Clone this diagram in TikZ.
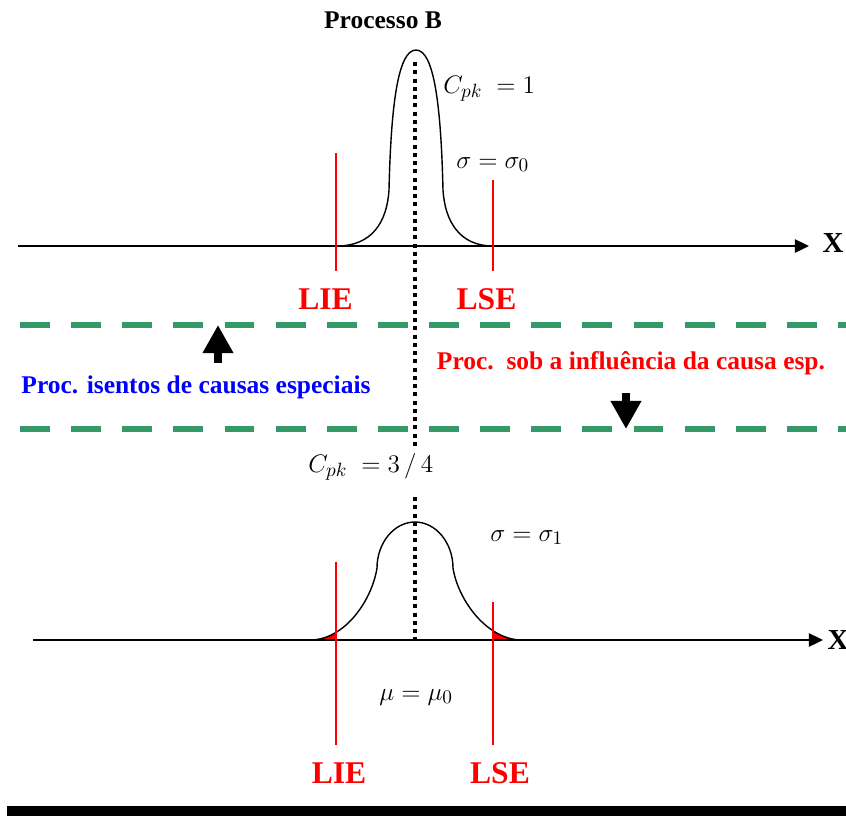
\documentclass[tikz,border=0pt]{standalone}
\usepackage{fontspec}
\setmainfont{Liberation Serif}
\usepackage{xcolor}
\usepackage{tikz}
\usetikzlibrary{arrows.meta}
\definecolor{band}{HTML}{339966}
\definecolor{limit}{HTML}{FF0000}
\definecolor{calm}{HTML}{0000FF}

\begin{document}
\begin{tikzpicture}[x=0.02cm, y=-0.02cm,
    axis/.style={line width=1.1pt, -{Triangle[length=8pt,width=7.5pt]}},
    bell/.style={line width=0.8pt},
    limitline/.style={limit, line width=0.9pt},
    meanline/.style={line width=2.8pt, dash pattern=on 2.3pt off 2.4pt},
    bandline/.style={band, line width=3.4pt, dash pattern=on 17pt off 12.1pt},
    blockarrow/.style={line width=4.5pt, -{Triangle[length=16pt,width=16.5pt]}},
    limitlabel/.style={text=limit, font=\fontsize{18}{20}\selectfont\bfseries},
    axislabel/.style={font=\fontsize{16.5}{18}\selectfont\bfseries},
    mathlabel/.style={anchor=base west, inner sep=0pt, font=\fontsize{15}{17}\selectfont}]
        \useasboundingbox (0,0) rectangle (846,816);
        \node[font=\fontsize{14.5}{16}\selectfont\bfseries] (title) at (383,20) {Processo B};

        % top process
        \draw[bell] (337,246) .. controls (372,246) and (387,222) .. (389,190)
          .. controls (391,105) and (398,50) .. (416,50)
          .. controls (434,50) and (441,105) .. (443,190)
          .. controls (445,222) and (460,246) .. (493,246);
        \draw[axis] (18,246) -- (809,246);
        \node[axislabel] (xtop) at (833,243) {X};
        \draw[limitline] (336,153) -- (336,271);
        \draw[limitline] (493,180) -- (493,271);
        \node[limitlabel] (lietop) at (325.5,299) {LIE};
        \node[limitlabel] (lsetop) at (486.5,299) {LSE};
        \node[mathlabel] (cpktop) at (443,93) {$C_{pk}\;=1$};
        \node[mathlabel] (sigtop) at (456,168) {$\sigma=\sigma_0$};
        \draw[meanline] (415,62) -- (415,450);

        % band between the two processes
        \draw[bandline] (20,325) -- (846,325);
        \draw[bandline] (20,429) -- (846,429);
        \draw[blockarrow] (218,363) -- (218,325);
        \draw[blockarrow] (626,393) -- (626,429);
        \node[text=calm, font=\fontsize{14.5}{16}\selectfont\bfseries] (isentos) at (196,387) {Proc. isentos de causas especiais};
        \node[text=limit, font=\fontsize{14.5}{16}\selectfont\bfseries] (influencia) at (631,363) {Proc.\ \ sob a influência da causa esp.};

        % bottom process
        \begin{scope}
          \clip (300,540) rectangle (336,641);
          \fill[limit] (310,640) .. controls (345,640) and (372,600) .. (377,568) -- (377,640) -- cycle;
        \end{scope}
        \begin{scope}
          \clip (493,540) rectangle (530,641);
          \fill[limit] (453,640) -- (453,568) .. controls (458,600) and (487,640) .. (522,640) -- cycle;
        \end{scope}
        \draw[bell] (310,640) .. controls (345,640) and (372,600) .. (377,568)
          .. controls (377,543) and (394,522) .. (415,522)
          .. controls (436,522) and (453,543) .. (453,568)
          .. controls (458,600) and (487,640) .. (522,640);
        \draw[axis] (33,640) -- (823,640);
        \node[axislabel] (xbottom) at (838,640) {X};
        \draw[limitline] (336,562) -- (336,745);
        \draw[limitline] (493,602) -- (493,745);
        \node[limitlabel] (liebottom) at (339,773) {LIE};
        \node[limitlabel] (lsebottom) at (500,773) {LSE};
        \node[mathlabel] (cpkbottom) at (308,472) {$C_{pk}\;=3\,/\,4$};
        \node[mathlabel] (sigbottom) at (490,541) {$\sigma=\sigma_1$};
        \node[mathlabel] (mubottom) at (379,700) {$\mu=\mu_0$};
        \draw[meanline] (415,497) -- (415,640);

        \fill (7,806) rectangle (846,816);
      \end{tikzpicture}
\end{document}
